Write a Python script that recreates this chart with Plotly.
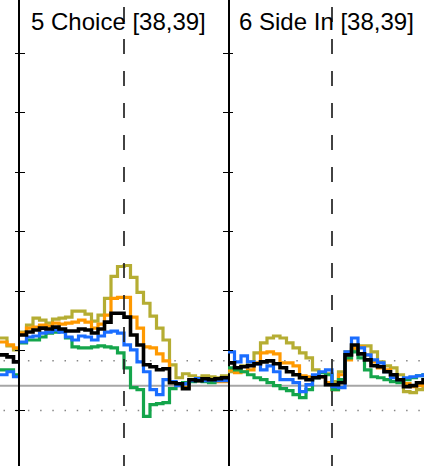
import plotly.graph_objects as go

# ---------------- data ----------------
BIN = 0.0625          # bin width (s); each panel spans -1 .. +1 s around its event

# tail of panel 4 (last 4 bins, ending at +1 s)
p4_olive  = [4.8, 4.8, 4.0, 3.6]
p4_orange = [4.4, 4.4, 4.1, 3.8]
p4_black  = [3.1, 3.1, 2.9, 2.4]
p4_green  = [1.6, 1.6, 1.6, 1.1]
p4_blue   = [1.1, 1.1, 1.4, 0.9]

# panel 5 "Choice" (32 bins from -1 s)
p5_olive  = [5.4, 6.1, 6.8, 6.6, 6.3, 6.7, 6.8, 6.9, 7.5, 7.5, 7.2, 6.5, 7.1, 8.8, 11.0, 12.0,
             12.1, 10.9, 9.4, 8.3, 7.0, 5.8, 4.6, 2.1, 0.8, 1.2, 1.0, 0.8, 1.0, 0.9, 0.8, 1.0]
p5_orange = [5.3, 5.8, 5.9, 6.1, 6.0, 6.3, 6.2, 6.3, 6.4, 6.6, 6.4, 5.8, 6.2, 7.1, 8.8, 8.9,
             8.9, 6.9, 5.8, 3.9, 3.8, 3.2, 2.5, 0.3, 0.0, -0.2, 0.6, 0.5, 0.6, 0.5, 0.4, 0.4]
p5_black  = [5.1, 5.4, 5.6, 5.8, 5.7, 5.9, 5.7, 5.5, 5.5, 5.7, 5.6, 5.3, 5.7, 6.4, 7.3, 7.3,
             6.9, 5.1, 4.1, 2.1, 1.9, 1.6, 1.7, 0.3, 0.2, -0.3, 0.6, 0.5, 0.7, 0.6, 0.7, 0.8]
p5_blue   = [4.4, 4.9, 5.0, 5.3, 5.4, 5.6, 5.4, 4.9, 4.6, 5.0, 4.9, 4.6, 5.0, 5.4, 5.5, 5.3,
             4.1, 3.6, 2.4, 1.4, -0.4, -0.9, 0.6, 0.4, 0.0, 0.2, 0.5, 0.7, 0.5, 0.6, 0.5, 0.5]
p5_green  = [4.3, 4.6, 4.6, 4.9, 5.3, 5.4, 5.5, 4.8, 3.9, 3.8, 3.8, 3.9, 4.0, 3.9, 3.8, 3.3,
             1.8, -0.2, -0.4, -3.1, -1.9, -1.8, -1.7, -0.3, 0.2, 0.3, 0.4, 0.5, 0.4, 0.3, 0.6, 0.7]

# panel 6 "Side In" (visible bins from -1 s)
p6_olive  = [1.4, 1.6, 2.0, 2.4, 3.3, 4.3, 4.8, 5.0, 4.8, 4.3, 3.8, 3.3, 2.8, 1.6, 0.9, 1.2,
             0.4, 1.4, 3.4, 3.6, 4.0, 4.0, 3.4, 2.4, 2.0, 1.8, 1.1, -0.6, -0.7, -0.4, 0.2]
p6_orange = [1.6, 1.3, 1.4, 1.6, 2.3, 3.3, 3.4, 3.2, 2.3, 2.3, 2.0, 1.0, 0.9, 1.0, 0.9, 0.3,
             -0.4, 1.1, 2.6, 3.8, 3.9, 3.1, 2.4, 1.8, 1.6, 1.0, 0.6, 0.2, -0.1, 0.0, 0.1]
p6_black  = [2.3, 1.8, 1.9, 2.0, 2.2, 2.4, 2.5, 2.2, 1.8, 1.4, 1.1, 0.8, 0.6, 0.8, 0.9, 0.1,
             0.1, 0.3, 3.1, 4.1, 3.2, 2.6, 2.0, 1.9, 1.4, 1.1, 0.6, -0.1, 0.0, 0.3, 0.6]
p6_blue   = [3.4, 2.4, 3.0, 2.4, 2.2, 1.6, 2.0, 1.4, 0.6, 0.6, 0.3, -0.6, 0.1, 1.1, 1.4, 1.6,
             -0.1, -0.2, 3.4, 4.8, 3.8, 3.1, 2.6, 2.3, 1.4, 0.8, 0.6, 0.8, 0.9, 1.0, 1.1]
p6_green  = [1.8, 1.6, 1.4, 1.1, 0.8, 0.6, 0.3, 0.0, -0.3, -0.5, -0.9, -1.2, -0.4, 0.8, 1.3, 1.1,
             -0.4, 0.6, 2.8, 3.4, 2.8, 1.6, 0.9, 0.8, 0.6, 0.4, 0.3, 0.6, 0.8, 1.0, 1.1]

panel_titles = ["5 Choice [38,39]", "6 Side In [38,39]"]
tick_values = [-2.5, 3.5, 9.5, 15.5, 21.5, 27.5, 33.5]
sig_level = 2.5

# ---------------- styling ----------------
W, H = 424, 466
COL = {"olive": "#b5ad33", "orange": "#ff9900", "blue": "#1a6dff",
       "green": "#14a54b", "black": "#000000"}
ORDER = ["olive", "orange", "green", "blue", "black"]
YR = [-8.09, 38.84]
FONT = "Liberation Sans, Arial, sans-serif"

panels = [
    (0.75, {"olive": p4_olive, "orange": p4_orange, "black": p4_black, "green": p4_green, "blue": p4_blue}),
    (-1.0, {"olive": p5_olive, "orange": p5_orange, "black": p5_black, "green": p5_green, "blue": p5_blue}),
    (-1.0, {"olive": p6_olive, "orange": p6_orange, "black": p6_black, "green": p6_green, "blue": p6_blue}),
]


def step_xy(start, vals):
    x = [start + i * BIN for i in range(len(vals) + 1)]
    y = list(vals) + [vals[-1]]
    return x, y


fig = go.Figure()
for pi, (start, series) in enumerate(panels):
    suffix = "" if pi == 0 else str(pi + 1)
    for name in ORDER:
        x, y = step_xy(start, series[name])
        fig.add_trace(go.Scatter(
            x=x, y=y, mode="lines", line_shape="hv",
            line=dict(color=COL[name], width=3.6 if name == "black" else 3.2),
            xaxis="x" + suffix, yaxis="y" + suffix, showlegend=False, hoverinfo="skip"))

d0, d1 = 20 / W, 228 / W
hidden_x = dict(showticklabels=False, showline=False, zeroline=False, showgrid=False, ticks="")
common_y = dict(range=YR, showticklabels=False, zeroline=False, showgrid=False,
                tickvals=tick_values, ticks="inside", ticklen=5, tickwidth=1, tickcolor="black")

fig.update_layout(
    width=W, height=H, margin=dict(l=0, r=0, t=0, b=0), autosize=False,
    paper_bgcolor="white", plot_bgcolor="rgba(0,0,0,0)",
    xaxis=dict(domain=[0, d0], range=[1 - 20 / 104, 1], **hidden_x),
    xaxis2=dict(domain=[d0, d1], range=[-1, 1], **hidden_x),
    xaxis3=dict(domain=[d1, 1], range=[-1, -1 + 196 / 104], **hidden_x),
    yaxis=dict(anchor="x", side="right", showline=False, **common_y),
    yaxis2=dict(anchor="x2", showline=True, linewidth=2, linecolor="black", mirror="ticks", **common_y),
    yaxis3=dict(anchor="x3", showline=False, **common_y),
)

# baseline and significance lines across all panels
fig.add_shape(type="line", xref="paper", yref="y2", x0=0, x1=1, y0=0, y1=0,
              line=dict(color="#a6a6a6", width=2), layer="below")
for s in (sig_level, -sig_level):
    fig.add_shape(type="line", xref="paper", yref="y2", x0=3.5 / W, x1=1, y0=s, y1=s,
                  line=dict(color="#888888", width=1.5, dash="1.5px,10.7px"), layer="below")

# event lines at t = 0
for xr, yr in (("x2", "y2"), ("x3", "y3")):
    fig.add_shape(type="line", xref=xr, yref=yr, x0=0, x1=0, y0=38.14, y1=YR[0] - 1,
                  line=dict(color="#222222", width=1.7, dash="15px,17px"), layer="above")

# panel titles
for xr, title in zip(("x2", "x3"), panel_titles):
    fig.add_annotation(text=title, xref=xr + " domain", yref="paper", x=0.045, y=1 - 22 / H,
                       xanchor="left", yanchor="middle", showarrow=False,
                       font=dict(family=FONT, size=24, color="black"))

fig.write_html("out.html", config={"displayModeBar": False},
               post_script="document.body.style.margin='0px';")
